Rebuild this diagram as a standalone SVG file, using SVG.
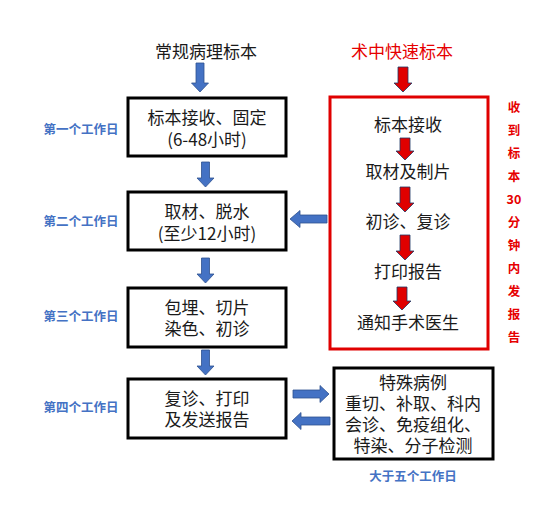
<svg xmlns="http://www.w3.org/2000/svg" width="554" height="507" viewBox="0 0 554 507">
<style>
.t{font-family:"Noto Sans CJK SC","Liberation Sans",sans-serif;font-size:17px;fill:#1a1a1a;text-anchor:middle}
.red{fill:#e60000}
.lbl{font-family:"Noto Sans CJK SC","Liberation Sans",sans-serif;font-size:12.5px;font-weight:bold;fill:#4472c4;text-anchor:middle}
.vr{font-family:"Noto Sans CJK SC","Liberation Sans",sans-serif;font-size:12.5px;font-weight:bold;fill:#e60000;text-anchor:middle}
.box{fill:#fff;stroke:#000;stroke-width:3}
.rbox{fill:#fff;stroke:#e00000;stroke-width:3}
.ba{fill:#4472c4;stroke:#2f528f;stroke-width:0.8}
.ra{fill:#e00000;stroke:#203864;stroke-width:0.8}
</style>
<rect width="554" height="507" fill="#fff"/>
<g id="title-routine"><text class="t" x="206" y="58">常规病理标本</text></g>
<g id="title-frozen"><text class="t red" x="402" y="58">术中快速标本</text></g>

<g id="label-day1"><text class="lbl" x="81" y="134">第一个工作日</text></g>
<g id="label-day2"><text class="lbl" x="81" y="226">第二个工作日</text></g>
<g id="label-day3"><text class="lbl" x="81" y="321">第三个工作日</text></g>
<g id="label-day4"><text class="lbl" x="81" y="412">第四个工作日</text></g>
<g id="label-day5"><text class="lbl" x="413" y="481">大于五个工作日</text></g>

<g id="box1"><rect class="box" x="128" y="98" width="158" height="58"/>
<text class="t" x="207" y="124">标本接收、固定</text><text class="t" x="207" y="146">(6-48小时)</text></g>
<g id="box2"><rect class="box" x="128" y="192" width="158" height="58"/>
<text class="t" x="207" y="218">取材、脱水</text><text class="t" x="207" y="240">(至少12小时)</text></g>
<g id="box3"><rect class="box" x="128" y="288" width="158" height="59"/>
<text class="t" x="207" y="314">包埋、切片</text><text class="t" x="207" y="335">染色、初诊</text></g>
<g id="box4"><rect class="box" x="128" y="379" width="158" height="59"/>
<text class="t" x="207" y="405">复诊、打印</text><text class="t" x="207" y="426">及发送报告</text></g>

<g id="frozen-box"><rect class="rbox" x="330" y="97" width="158" height="252"/>
<text class="t" x="408" y="131">标本接收</text>
<text class="t" x="408" y="178">取材及制片</text>
<text class="t" x="408" y="228">初诊、复诊</text>
<text class="t" x="408" y="278">打印报告</text>
<text class="t" x="408" y="329">通知手术医生</text></g>

<g id="special-box"><rect class="box" x="334" y="368" width="159" height="91"/>
<text class="t" x="413" y="389">特殊病例</text>
<text class="t" x="413" y="410">重切、补取、科内</text>
<text class="t" x="413" y="431">会诊、免疫组化、</text>
<text class="t" x="413" y="452">特染、分子检测</text></g>

<g id="note-30min">
<text class="vr" x="514" y="112">收</text>
<text class="vr" x="514" y="135">到</text>
<text class="vr" x="514" y="158">标</text>
<text class="vr" x="514" y="181">本</text>
<text class="vr" x="514" y="204">30</text>
<text class="vr" x="514" y="227">分</text>
<text class="vr" x="514" y="250">钟</text>
<text class="vr" x="514" y="273">内</text>
<text class="vr" x="514" y="296">发</text>
<text class="vr" x="514" y="319">报</text>
<text class="vr" x="514" y="342">告</text>
</g>

<g id="connectors">
<path class="ba" d="M196,63H204V83H208.5L200,92L191.5,83H196Z"/>
<path class="ba" d="M201.5,162H209.5V178H214L205.5,187L197,178H201.5Z"/>
<path class="ba" d="M201.5,258H209.5V274H214L205.5,283L197,274H201.5Z"/>
<path class="ba" d="M201.5,350H209.5V366H214L205.5,375L197,366H201.5Z"/>
<path class="ba" d="M327,215V223H300V227.5L290,219L300,210.5V215Z"/>
<path class="ba" d="M293,390H320V385.5L329,394L320,402.5V398H293Z"/>
<path class="ba" d="M330,417V425H301V429.5L292,421L301,412.5V417Z"/>
<path class="ra" d="M398,67H408V83H412L403,92L394,83H398Z"/>
<path class="ra" d="M400,138H410V151H414L405,160L396,151H400Z"/>
<path class="ra" d="M400,187H410V203H414L405,212L396,203H400Z"/>
<path class="ra" d="M400,235H410V251H414L405,260L396,251H400Z"/>
<path class="ra" d="M397,287H407V301H411L402,310L393,301H397Z"/>
</g>
</svg>
